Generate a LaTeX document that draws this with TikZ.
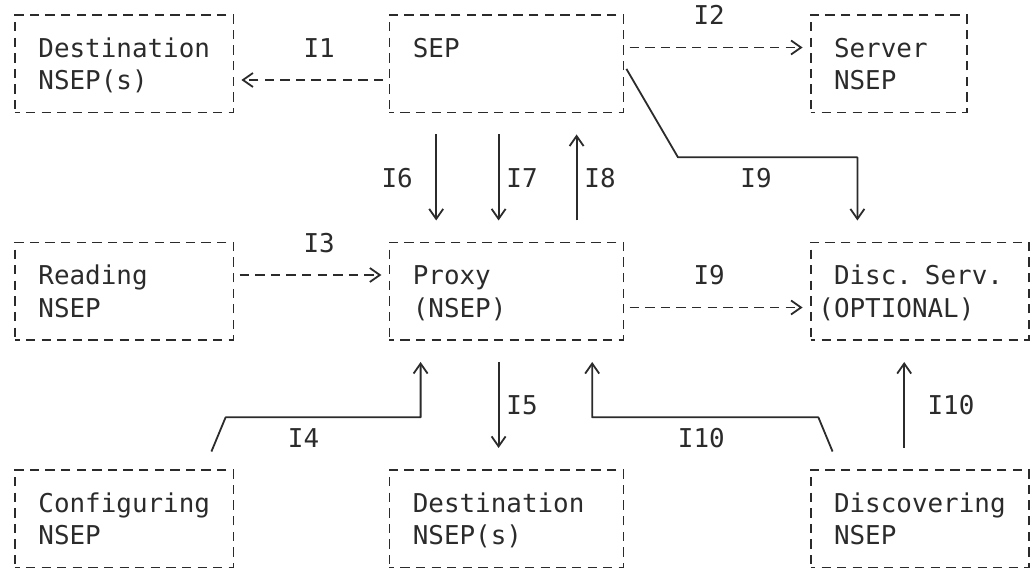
\documentclass[tikz,border=0pt]{standalone}
\usepackage{fontspec}
\usepackage{tikz}
\usetikzlibrary{arrows.meta, calc}

\definecolor{ink}{HTML}{2B2B2B}
\newfontfamily\nsepmono{DejaVu Sans Mono}
\newcommand{\nsepfont}{\nsepmono\fontsize{12.96pt}{16.25pt}\selectfont}
\newcommand{\rowstrut}{\rule[-3.125pt]{0pt}{16.25pt}}

\begin{document}
\begin{tikzpicture}[x=7.8pt, y=-16.25pt]
        % Define block styles
        \tikzstyle{block} = [rectangle, draw=ink, line width=0.9pt, dash pattern=on 4.68pt off 3.12pt, dash phase=2.34pt, text=ink, font=\nsepfont, align=left, inner xsep=11.7pt, inner ysep=0pt, minimum height=48.75pt, outer sep=0pt]
        \tikzstyle{tag} = [text=ink, font=\nsepfont, inner sep=0pt, text height=13.125pt, text depth=3.125pt]
        \tikzstyle{wire} = [draw=ink, line width=0.9pt, line join=round, -{Straight Barb[length=5pt, width=7pt]}]
        \tikzstyle{flow} = [wire, dash pattern=on 4.68pt off 3.12pt, dash phase=4.68pt, shorten >=4pt]
        \tikzstyle{feed} = [wire, shorten <=11pt, shorten >=11pt]

        \useasboundingbox (-0.9615,-0.4615) rectangle (65.449,17.262);

        % Place nodes
        \node [block, text width=85.8pt] (dest_top) at (7,1.5) {\rowstrut Destination\\\rowstrut NSEP(s)};
        \node [block, text width=93.6pt] (sep) at (31.5,1.5) {\rowstrut SEP\\\rowstrut};
        \node [block, text width=54.6pt] (server) at (56,1.5) {\rowstrut Server\\\rowstrut NSEP};
        \node [block, text width=85.8pt] (reading) at (7,8.5) {\rowstrut Reading\\\rowstrut NSEP};
        \node [block, text width=93.6pt] (proxy) at (31.5,8.5) {\rowstrut Proxy\\\rowstrut (NSEP)};
        \node [block, text width=85.8pt] (disc) at (58,8.5) {\rowstrut Disc. Serv.\\\rowstrut\hspace*{-7.8pt}(OPTIONAL)};
        \node [block, text width=85.8pt] (config) at (7,15.5) {\rowstrut Configuring\\\rowstrut NSEP};
        \node [block, text width=93.6pt] (dest_low) at (31.5,15.5) {\rowstrut Destination\\\rowstrut NSEP(s)};
        \node [block, text width=85.8pt] (discovering) at (58,15.5) {\rowstrut Discovering\\\rowstrut NSEP};

        % Columns and bends of the links
        \coordinate (c27) at (27,0);
        \coordinate (c31) at (31,0);
        \coordinate (c36) at (36,0);
        \coordinate (c57) at (57,0);
        \coordinate (i9_knee) at (42.5,4.38);
        \coordinate (i9_corner) at (54,4.38);
        \coordinate (i4_foot) at (12.1,14);
        \coordinate (i4_knee) at (13.5,12.38);
        \coordinate (i4_corner) at (26,12.38);
        \coordinate (i10_foot) at (52.9,14);
        \coordinate (i10_knee) at (51.5,12.38);
        \coordinate (i10_corner) at (37,12.38);

        % Draw connections as arrows
        \draw [flow] ([yshift=-8.125pt]sep.west) -- ([yshift=-8.125pt]dest_top.east);
        \draw [flow] ([yshift=8.125pt]sep.east) -- ([yshift=8.125pt]server.west);
        \draw [flow] ([yshift=8.125pt]reading.east) -- ([yshift=8.125pt]proxy.west);
        \draw [flow] ([yshift=-8.125pt]proxy.east) -- ([yshift=-8.125pt]disc.west);
        \draw [feed] (sep.south -| c27) -- (proxy.north -| c27);
        \draw [feed] (sep.south -| c31) -- (proxy.north -| c31);
        \draw [feed] (proxy.north -| c36) -- (sep.south -| c36);
        \draw [feed, shorten <=3pt] (sep.east) -- (i9_knee) -- (i9_corner) -- (disc.north -| i9_corner);
        \draw [feed] (proxy.south -| c31) -- (dest_low.north -| c31);
        \draw [feed, shorten <=10pt] (config.north -| i4_foot) -- (i4_knee) -- (i4_corner) -- (proxy.south -| i4_corner);
        \draw [feed, shorten <=10pt] (discovering.north -| i10_foot) -- (i10_knee) -- (i10_corner) -- (proxy.south -| i10_corner);
        \draw [feed] (discovering.north -| c57) -- (disc.south -| c57);

        % Add text on the arrows
        \node [tag] (l_i1) at (19.5,1) {I1};
        \node [tag] (l_i2) at (44.5,0) {I2};
        \node [tag] (l_i3) at (19.5,7) {I3};
        \node [tag] (l_i6) at (24.5,5) {I6};
        \node [tag] (l_i7) at (32.5,5) {I7};
        \node [tag] (l_i8) at (37.5,5) {I8};
        \node [tag] (l_i9_top) at (47.5,5) {I9};
        \node [tag] (l_i9) at (44.5,8) {I9};
        \node [tag] (l_i4) at (18.5,13) {I4};
        \node [tag] (l_i5) at (32.5,12) {I5};
        \node [tag] (l_i10) at (44,13) {I10};
        \node [tag] (l_i10_right) at (60,12) {I10};
    \end{tikzpicture}
\end{document}
